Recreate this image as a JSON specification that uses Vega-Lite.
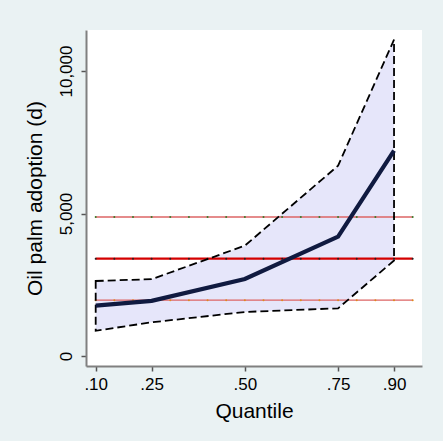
{
  "$schema": "https://vega.github.io/schema/vega-lite/v6.json",
  "width": 336,
  "height": 336,
  "autosize": {"type": "none"},
  "padding": {"left": 86, "top": 30, "right": 21, "bottom": 75},
  "background": "#eaf2f3",
  "config": {
    "view": {"fill": "white", "stroke": null},
    "font": "Liberation Sans",
    "axis": {
      "grid": false,
      "labelColor": "black",
      "titleColor": "black",
      "titleFontWeight": "normal",
      "labelFont": "Liberation Sans",
      "titleFont": "Liberation Sans",
      "domainColor": "#808080",
      "domainWidth": 2,
      "tickColor": "#555555",
      "tickWidth": 1.5,
      "tickSize": 5,
      "labelFontSize": 17,
      "titleFontSize": 21,
      "labelFlush": false,
      "labelOverlap": false
    }
  },
  "datasets": {
    "band": [
      {"q": 0.10, "b": 1765, "lo": 885, "hi": 2632},
      {"q": 0.25, "b": 1935, "lo": 1182, "hi": 2695},
      {"q": 0.50, "b": 2702, "lo": 1545, "hi": 3871},
      {"q": 0.75, "b": 4186, "lo": 1673, "hi": 6677},
      {"q": 0.90, "b": 7204, "lo": 3350, "hi": 11100}
    ],
    "ols": [
      {"q": 0.10, "est": 3415, "lo": 1960, "hi": 4877},
      {"q": 0.15, "est": 3415, "lo": 1960, "hi": 4877},
      {"q": 0.20, "est": 3415, "lo": 1960, "hi": 4877},
      {"q": 0.25, "est": 3415, "lo": 1960, "hi": 4877},
      {"q": 0.30, "est": 3415, "lo": 1960, "hi": 4877},
      {"q": 0.35, "est": 3415, "lo": 1960, "hi": 4877},
      {"q": 0.40, "est": 3415, "lo": 1960, "hi": 4877},
      {"q": 0.45, "est": 3415, "lo": 1960, "hi": 4877},
      {"q": 0.50, "est": 3415, "lo": 1960, "hi": 4877},
      {"q": 0.55, "est": 3415, "lo": 1960, "hi": 4877},
      {"q": 0.60, "est": 3415, "lo": 1960, "hi": 4877},
      {"q": 0.65, "est": 3415, "lo": 1960, "hi": 4877},
      {"q": 0.70, "est": 3415, "lo": 1960, "hi": 4877},
      {"q": 0.75, "est": 3415, "lo": 1960, "hi": 4877},
      {"q": 0.80, "est": 3415, "lo": 1960, "hi": 4877},
      {"q": 0.85, "est": 3415, "lo": 1960, "hi": 4877},
      {"q": 0.90, "est": 3415, "lo": 1960, "hi": 4877},
      {"q": 0.95, "est": 3415, "lo": 1960, "hi": 4877}
    ]
  },
  "encoding": {
    "x": {
      "field": "q",
      "type": "quantitative",
      "title": "Quantile",
      "scale": {"domain": [0.074, 0.975], "nice": false, "zero": false},
      "axis": {
        "values": [0.1, 0.25, 0.5, 0.75, 0.9],
        "labelExpr": "replace(format(datum.value, '.2f'), '0.', '.')",
        "labelPadding": 5,
        "titlePadding": 8
      }
    }
  },
  "layer": [
    {
      "data": {"name": "band"},
      "mark": {"type": "area", "fill": "#e6e6fa", "stroke": null},
      "encoding": {
        "y": {
          "field": "hi",
          "type": "quantitative",
          "title": "Oil palm adoption (d)",
          "scale": {"domain": [-351, 11439], "nice": false, "zero": false},
          "axis": {
            "values": [0, 5000, 10000],
            "labelExpr": "format(datum.value, ',.0f')",
            "labelAngle": 270,
            "labelAlign": "center",
            "labelBaseline": "bottom",
            "labelPadding": 6,
            "titlePadding": 12
          }
        },
        "y2": {"field": "lo"}
      }
    },
    {
      "data": {"name": "ols"},
      "mark": {"type": "line", "color": "#dc6464", "strokeWidth": 1.3},
      "encoding": {"y": {"field": "hi", "type": "quantitative", "title": "Oil palm adoption (d)"}}
    },
    {
      "data": {"name": "ols"},
      "mark": {"type": "line", "color": "#dc6464", "strokeWidth": 1.3},
      "encoding": {"y": {"field": "lo", "type": "quantitative", "title": "Oil palm adoption (d)"}}
    },
    {
      "data": {"name": "ols"},
      "mark": {"type": "line", "color": "#d40000", "strokeWidth": 2.2},
      "encoding": {"y": {"field": "est", "type": "quantitative", "title": "Oil palm adoption (d)"}}
    },
    {
      "data": {"name": "ols"},
      "mark": {"type": "point", "filled": true, "size": 4, "color": "#3a7a2a", "opacity": 1},
      "encoding": {"y": {"field": "hi", "type": "quantitative", "title": "Oil palm adoption (d)"}}
    },
    {
      "data": {"name": "ols"},
      "mark": {"type": "point", "filled": true, "size": 4, "color": "#e08a1e", "opacity": 1},
      "encoding": {"y": {"field": "lo", "type": "quantitative", "title": "Oil palm adoption (d)"}}
    },
    {
      "data": {"name": "ols"},
      "mark": {"type": "point", "filled": true, "size": 4, "color": "#222222", "opacity": 1},
      "encoding": {"y": {"field": "est", "type": "quantitative", "title": "Oil palm adoption (d)"}}
    },
    {
      "data": {"name": "band"},
      "mark": {"type": "area", "fill": null, "fillOpacity": 0, "stroke": "black", "strokeWidth": 1.8, "strokeDash": [8, 4]},
      "encoding": {
        "y": {"field": "hi", "type": "quantitative", "title": "Oil palm adoption (d)"},
        "y2": {"field": "lo"}
      }
    },
    {
      "data": {"name": "band"},
      "mark": {"type": "line", "color": "#101a40", "strokeWidth": 4.2},
      "encoding": {"y": {"field": "b", "type": "quantitative", "title": "Oil palm adoption (d)"}}
    }
  ]
}
